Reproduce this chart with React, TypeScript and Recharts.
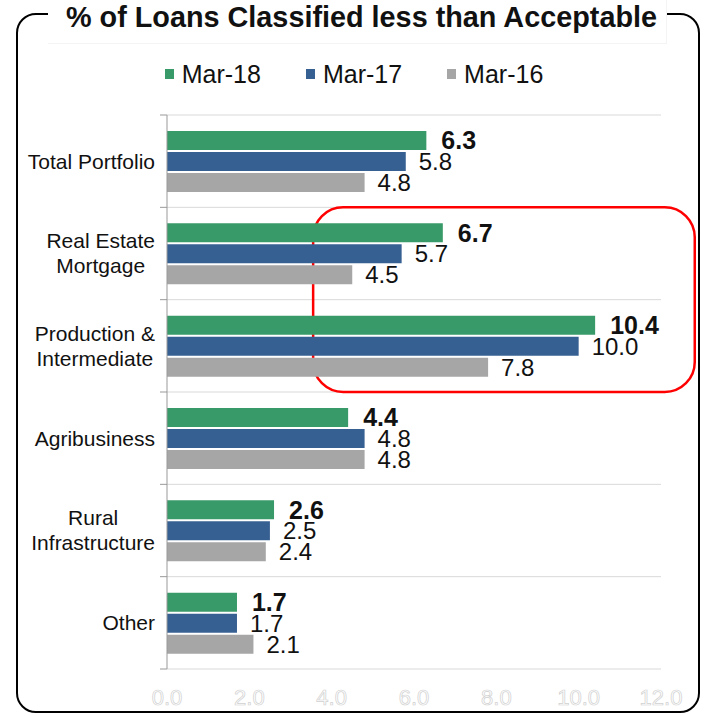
import {
  Bar,
  BarChart,
  CartesianGrid,
  LabelList,
  Legend,
  ReferenceArea,
  XAxis,
  YAxis,
} from "recharts";

const categories = [
  "Total Portfolio",
  "Real Estate\nMortgage",
  "Production &\nIntermediate",
  "Agribusiness",
  "Rural\nInfrastructure",
  "Other",
];
const seriesNames = ["Mar-18", "Mar-17", "Mar-16"];
const mar18 = [6.3, 6.7, 10.4, 4.4, 2.6, 1.7];
const mar17 = [5.8, 5.7, 10.0, 4.8, 2.5, 1.7];
const mar16 = [4.8, 4.5, 7.8, 4.8, 2.4, 2.1];
const xTicks = [0, 2, 4, 6, 8, 10, 12];

const data = categories.map((name, i) => ({
  name,
  mar18: mar18[i],
  mar17: mar17[i],
  mar16: mar16[i],
}));

const W = 708;
const H = 716;
const MARGIN = { top: 115, right: 47, bottom: 0, left: 0 };
const AXIS_W = 167;
const AXIS_H = 47;
const FONT = '"Liberation Sans", Arial, sans-serif';
const band = (H - MARGIN.top - MARGIN.bottom - AXIS_H) / categories.length;

let ctx: CanvasRenderingContext2D | null = null;
function textWidth(s: string, size: number) {
  if (!ctx) ctx = document.createElement("canvas").getContext("2d");
  if (!ctx) return s.length * size * 0.5;
  ctx.font = `${size}px ${FONT}`;
  return ctx.measureText(s).width;
}

function CategoryTick({ x, y, payload, index }: any) {
  const lines = String(payload.value).split("\n");
  const size = 21;
  const lh = 25;
  const w = Math.max(...lines.map((l) => textWidth(l, size)));
  const cx = x - w / 2;
  const y0 = y - ((lines.length - 1) * lh) / 2;
  return (
    <g>
      <line x1={x + 5} x2={x + 12} y1={y - band / 2} y2={y - band / 2} stroke="#999" />
      {index === categories.length - 1 && (
        <line x1={x + 5} x2={x + 12} y1={y + band / 2} y2={y + band / 2} stroke="#999" />
      )}
      <text textAnchor="middle" fontSize={size} fill="#111" fontFamily={FONT}>
        {lines.map((l, i) => (
          <tspan key={i} x={cx} y={y0 + i * lh} dy="0.35em">
            {l}
          </tspan>
        ))}
      </text>
    </g>
  );
}

function Highlight({ x, y, width, height }: any) {
  return (
    <rect x={x} y={y} width={width} height={height} rx={30} ry={30} fill="none" stroke="#ff0000" strokeWidth={2.5} />
  );
}

function LegendContent({ payload }: any) {
  // vertical layout hands the payload over reversed, put it back in series order
  const items = [...(payload ?? [])].sort(
    (a: any, b: any) => seriesNames.indexOf(a.value) - seriesNames.indexOf(b.value)
  );
  return (
    <div style={{ display: "flex", justifyContent: "center", fontFamily: FONT, fontSize: 25, lineHeight: "28px", color: "#111" }}>
      {items.map((p: any, i: number) => (
        <div key={p.value} style={{ display: "flex", alignItems: "center", marginLeft: i ? 45 : 0 }}>
          <span style={{ width: 9, height: 10, background: p.color, marginRight: 8, display: "inline-block" }} />
          {p.value}
        </div>
      ))}
    </div>
  );
}

const fmt = (v: any) => Number(v).toFixed(1);

export default function App() {
  return (
    <div style={{ position: "absolute", left: 0, top: 0, width: W, height: H, background: "#fff" }}>
      <div
        style={{
          position: "absolute",
          left: 16,
          top: 13,
          width: 684,
          height: 700,
          border: "2.5px solid #000",
          borderRadius: 20,
          boxSizing: "border-box",
        }}
      />
      <div style={{ position: "absolute", left: 0, top: 0 }}>
        <BarChart
          width={W}
          height={H}
          data={data}
          layout="vertical"
          margin={MARGIN}
          barSize={19}
          barGap={2}
        >
          <CartesianGrid
            vertical={false}
            stroke="#d9d9d9"
            horizontalCoordinatesGenerator={({ offset }: any) =>
              categories.map((_, i) => offset.top + i * (offset.height / categories.length)).concat(offset.top + offset.height)
            }
          />
          <XAxis
            type="number"
            domain={[0, 12]}
            ticks={xTicks}
            tickFormatter={fmt}
            axisLine={false}
            tickLine={false}
            tickSize={0}
            tickMargin={20}
            height={AXIS_H}
            tick={{ fill: "#fff", stroke: "#d0d0d0", strokeWidth: 0.7, fontSize: 22, fontFamily: FONT }}
          />
          <YAxis
            type="category"
            dataKey="name"
            width={AXIS_W}
            interval={0}
            tickSize={0}
            tickMargin={12}
            tickLine={false}
            axisLine={{ stroke: "#999" }}
            tick={<CategoryTick />}
          />
          <Legend
            verticalAlign="middle"
            align="center"
            wrapperStyle={{ top: 60, left: 0, width: W }}
            content={<LegendContent />}
          />
          <ReferenceArea
            x1={3.55}
            x2={12.82}
            y1={categories[1]}
            y2={categories[2]}
            ifOverflow="visible"
            shape={(p: any) => <Highlight {...p} />}
          />
          <Bar dataKey="mar18" name={seriesNames[0]} fill="#389a68" isAnimationActive={false}>
            <LabelList dataKey="mar18" position="right" offset={15} formatter={fmt} fill="#111" fontSize={25} fontWeight="bold" fontFamily={FONT} />
          </Bar>
          <Bar dataKey="mar17" name={seriesNames[1]} fill="#376092" isAnimationActive={false}>
            <LabelList dataKey="mar17" position="right" offset={13} formatter={fmt} fill="#111" fontSize={24} fontFamily={FONT} />
          </Bar>
          <Bar dataKey="mar16" name={seriesNames[2]} fill="#a6a6a6" isAnimationActive={false}>
            <LabelList dataKey="mar16" position="right" offset={13} formatter={fmt} fill="#111" fontSize={24} fontFamily={FONT} />
          </Bar>
        </BarChart>
      </div>
      <div
        style={{
          position: "absolute",
          left: 48,
          top: 0,
          width: 619,
          height: 44,
          background: "#fff",
          borderBottom: "1px solid #f4f4f4",
          borderRight: "1px solid #f4f4f4",
          boxSizing: "border-box",
          textAlign: "center",
          paddingLeft: 9,
          fontFamily: FONT,
          fontWeight: "bold",
          fontSize: 28.8,
          lineHeight: "35px",
          color: "#111",
          whiteSpace: "nowrap",
        }}
      >
        % of Loans Classified less than Acceptable
      </div>
    </div>
  );
}
